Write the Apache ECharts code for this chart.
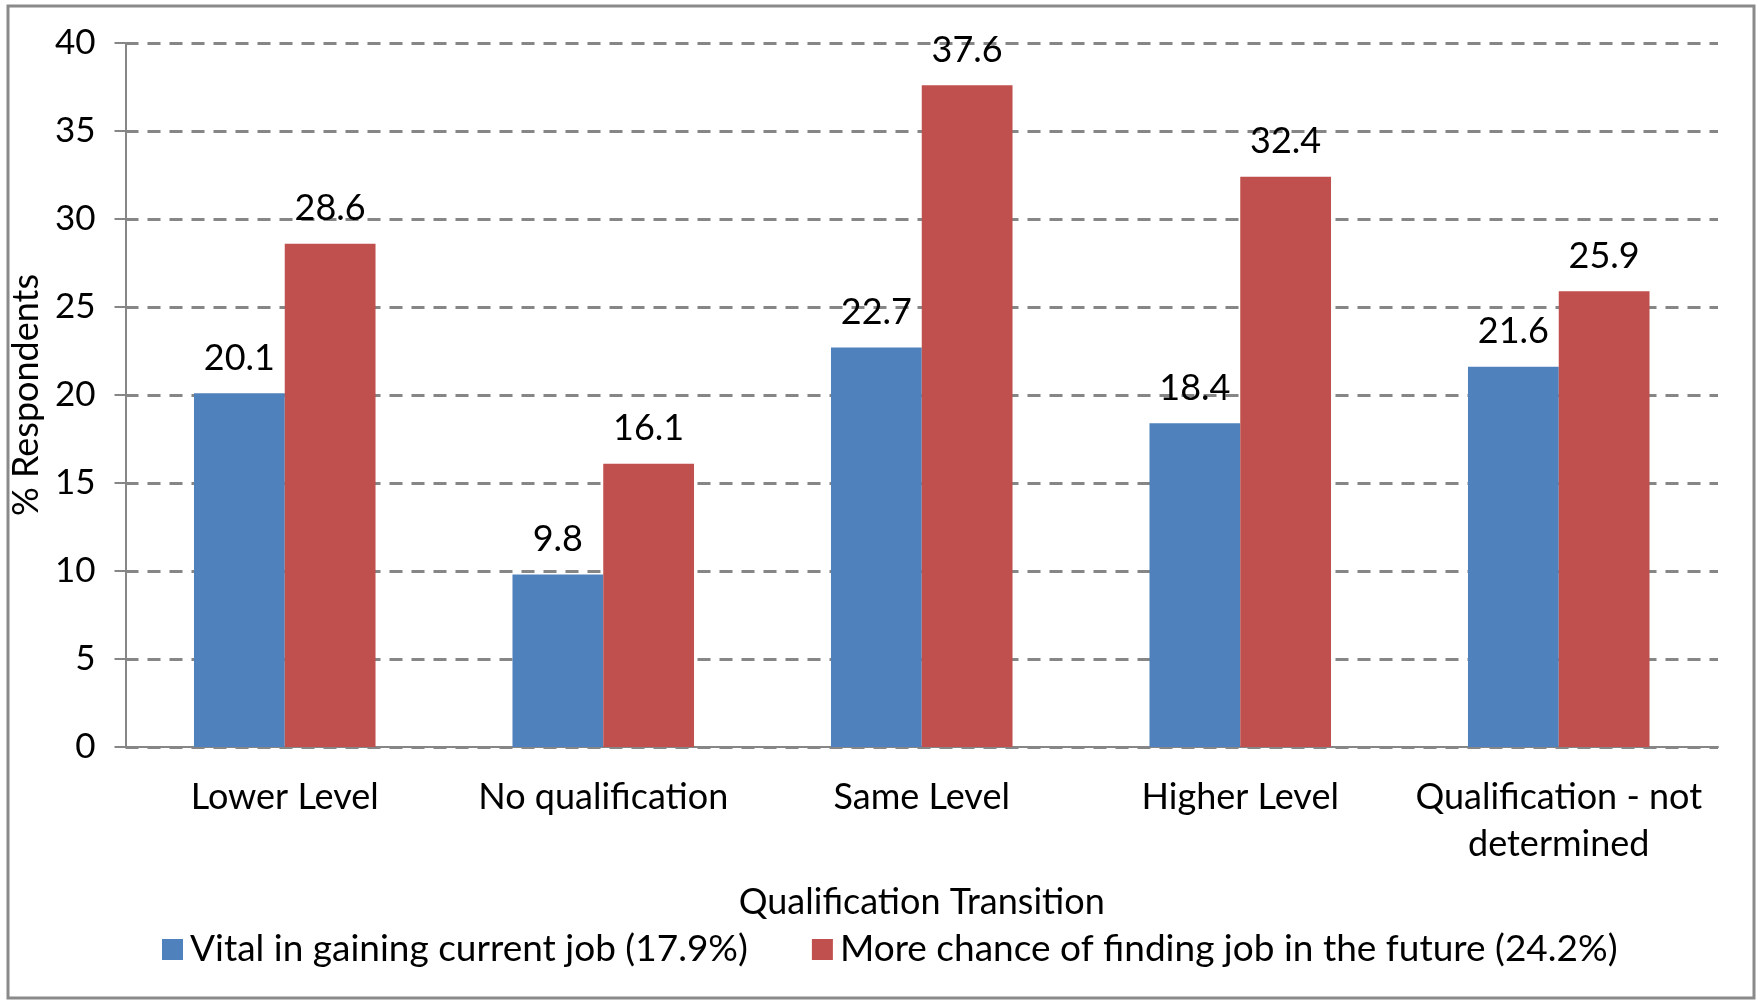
<!DOCTYPE html>
<html>
<head>
<meta charset="utf-8">
<script src="https://cdn.jsdelivr.net/npm/echarts@6/dist/echarts.min.js"></script>
<style>
html,body{margin:0;padding:0;background:#fff;}
#chart{width:1760px;height:1001px;}
</style>
</head>
<body>
<div id="chart"></div>
<script>
const categories = ["Lower Level", "No qualification", "Same Level", "Higher Level", "Qualification - not\ndetermined"];
const vitalValues = [20.1, 9.8, 22.7, 18.4, 21.6];
const chanceValues = [28.6, 16.1, 37.6, 32.4, 25.9];
const seriesNames = ["Vital in gaining current job (17.9%)", "More chance of finding job in the future (24.2%)"];
const yTicks = { min: 0, max: 40, interval: 5 };

const FONT = "Lato";
const chart = echarts.init(document.getElementById('chart'));
const gray = '#868686';
chart.setOption({
  animation: false,
  textStyle: { fontFamily: FONT, color: '#000' },
  graphic: [{
    type: 'rect',
    shape: { x: 8, y: 6, width: 1746, height: 992 },
    style: { fill: 'none', stroke: '#8a8a8a', lineWidth: 3 }
  }],
  grid: { left: 125, right: 42, top: 43, bottom: 254 },
  legend: {
    bottom: 28,
    left: 157,
    itemWidth: 21,
    itemHeight: 21,
    itemGap: 64,
    icon: 'rect',
    textStyle: { fontFamily: FONT, fontSize: 37, color: '#000', padding: [0, 0, 0, 2] },
    data: seriesNames
  },
  xAxis: {
    type: 'category',
    data: categories,
    name: 'Qualification Transition',
    nameLocation: 'middle',
    nameGap: 137,
    nameTextStyle: { fontFamily: FONT, fontSize: 36, color: '#000' },
    axisLine: { lineStyle: { color: gray, width: 2 } },
    axisTick: { length: 11, lineStyle: { color: gray, width: 2 } },
    axisLabel: { fontFamily: FONT, fontSize: 36, color: '#000', margin: 27, lineHeight: 47, interval: 0 }
  },
  yAxis: {
    type: 'value',
    min: yTicks.min, max: yTicks.max, interval: yTicks.interval,
    name: '% Respondents',
    nameLocation: 'middle',
    nameGap: 70,
    nameTextStyle: { fontFamily: FONT, fontSize: 36, color: '#000' },
    axisLine: { show: true, lineStyle: { color: gray, width: 2 } },
    axisTick: { show: true, length: 11, lineStyle: { color: gray, width: 2 } },
    axisLabel: { fontFamily: FONT, fontSize: 35, color: '#000', margin: 30 },
    splitLine: { lineStyle: { color: gray, width: 3, type: [13, 9] } }
  },
  series: [
    {
      name: seriesNames[0], type: 'bar', data: vitalValues,
      itemStyle: { color: '#4F81BD' },
      barGap: '0%', barCategoryGap: '43%',
      label: { show: true, position: 'top', distance: 17, fontFamily: FONT, fontSize: 36, color: '#000', formatter: p => p.value.toFixed(1) }
    },
    {
      name: seriesNames[1], type: 'bar', data: chanceValues,
      itemStyle: { color: '#C0504D' },
      barGap: '0%', barCategoryGap: '43%',
      label: { show: true, position: 'top', distance: 17, fontFamily: FONT, fontSize: 36, color: '#000', formatter: p => p.value.toFixed(1) }
    }
  ]
});
</script>
</body>
</html>
